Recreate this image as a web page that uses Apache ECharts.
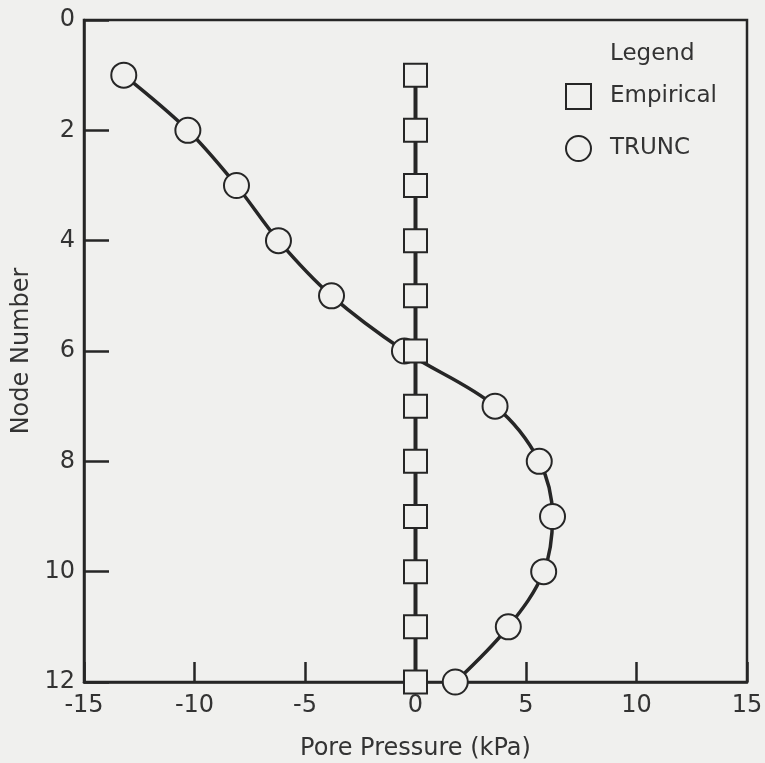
<!DOCTYPE html>
<html>
<head>
<meta charset="utf-8">
<title>Pore Pressure by Node</title>
<script src="https://cdn.jsdelivr.net/npm/echarts@6/dist/echarts.min.js"></script>
<style>
  html, body { margin: 0; padding: 0; background: #f0f0ee; }
  #chart { width: 765px; height: 763px; }
</style>
</head>
<body>
<div id="chart"></div>
<script>
// Node numbers (depth index), plotted downward on the vertical axis
const nodes = [1, 2, 3, 4, 5, 6, 7, 8, 9, 10, 11, 12];
// Pore pressure (kPa) at each node
const empirical = [0, 0, 0, 0, 0, 0, 0, 0, 0, 0, 0, 0];
const trunc = [-13.2, -10.3, -8.1, -6.2, -3.8, -0.5, 3.6, 5.6, 6.2, 5.8, 4.2, 1.8];
const xTicks = { min: -15, max: 15, interval: 5 };
const yTicks = { min: 0, max: 12, interval: 2 };

const BG = '#f0f0ee';
const INK = '#262626';
const TEXT = '#333333';
const FONT = 'DejaVu Sans';

const pairs = (xs) => xs.map((x, i) => [x, nodes[i]]);

const chart = echarts.init(document.getElementById('chart'), null, { renderer: 'canvas' });
chart.setOption({
  backgroundColor: BG,
  animation: false,
  title: {
    text: 'Legend',
    left: 610,
    top: 43,
    padding: 0,
    textStyle: { fontFamily: FONT, fontSize: 23, fontWeight: 'normal', color: TEXT }
  },
  legend: {
    orient: 'vertical',
    left: 565,
    top: 83,
    padding: 0,
    itemWidth: 25,
    itemHeight: 25,
    itemGap: 25,
    data: [
      { name: 'Empirical', icon: 'rect' },
      { name: 'TRUNC', icon: 'circle' }
    ],
    itemStyle: { color: BG, borderColor: INK, borderWidth: 2 },
    textStyle: { fontFamily: FONT, fontSize: 23, color: TEXT, padding: [0, 0, 0, 14] }
  },
  grid: {
    left: 84, right: 18, top: 20, bottom: 81,
    outerBoundsMode: 'none',
    containLabel: false,
    show: true, borderColor: INK, borderWidth: 2.5, backgroundColor: 'transparent'
  },
  xAxis: {
    type: 'value',
    min: xTicks.min, max: xTicks.max, interval: xTicks.interval,
    name: 'Pore Pressure (kPa)',
    nameLocation: 'middle',
    nameGap: 55,
    nameTextStyle: { fontFamily: FONT, fontSize: 24, color: TEXT },
    axisLine: { show: true, onZero: false, lineStyle: { color: INK, width: 2.5 } },
    axisTick: { show: true, inside: true, length: 20, lineStyle: { color: INK, width: 2.5 } },
    axisLabel: { fontFamily: FONT, fontSize: 24, color: TEXT, margin: 12 },
    splitLine: { show: false }
  },
  yAxis: {
    type: 'value',
    inverse: true,
    min: yTicks.min, max: yTicks.max, interval: yTicks.interval,
    name: 'Node Number',
    nameLocation: 'middle',
    nameGap: 48,
    nameTextStyle: { fontFamily: FONT, fontSize: 24, color: TEXT },
    axisLine: { show: true, onZero: false, lineStyle: { color: INK, width: 2.5 } },
    axisTick: { show: true, inside: true, length: 25, lineStyle: { color: INK, width: 2.5 } },
    axisLabel: { fontFamily: FONT, fontSize: 24, color: TEXT, margin: 9 },
    splitLine: { show: false }
  },
  series: [
    {
      name: 'TRUNC',
      type: 'line',
      data: pairs(trunc),
      smooth: 0.35,
      clip: false,
      z: 3,
      symbol: 'circle',
      symbolSize: 25,
      lineStyle: { color: INK, width: 3.5 },
      itemStyle: { color: BG, borderColor: INK, borderWidth: 2 }
    },
    {
      name: 'Empirical',
      type: 'line',
      data: pairs(empirical),
      clip: false,
      z: 4,
      symbol: 'rect',
      symbolSize: 23,
      lineStyle: { color: INK, width: 4 },
      itemStyle: { color: BG, borderColor: INK, borderWidth: 2 }
    }
  ]
});
</script>
</body>
</html>
